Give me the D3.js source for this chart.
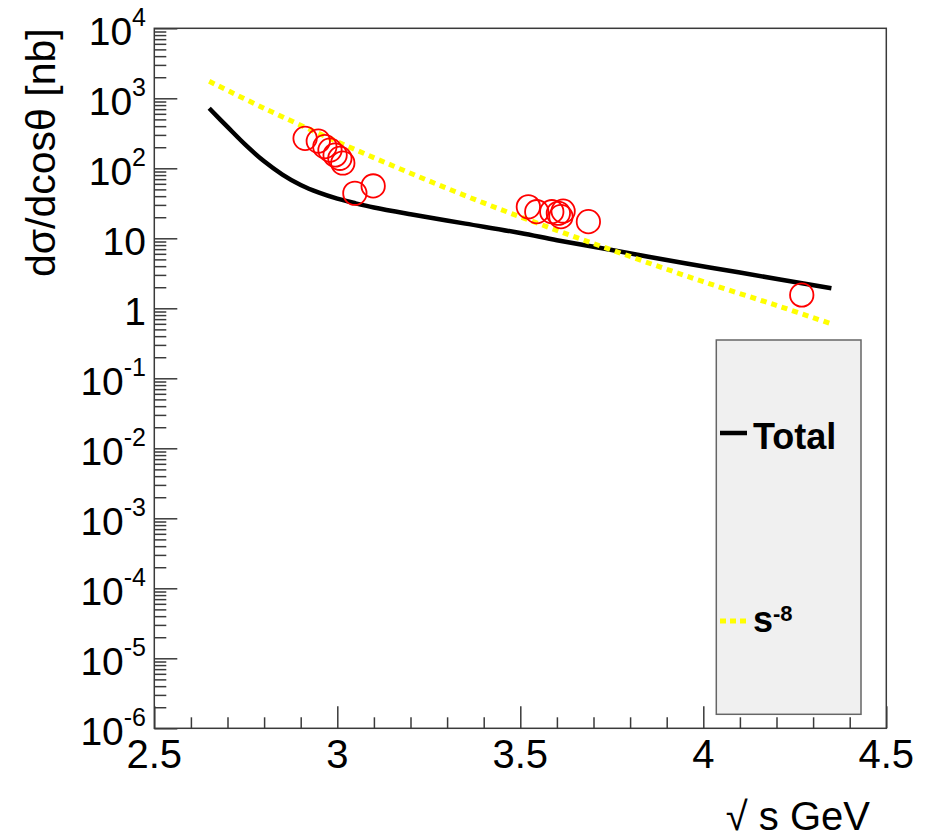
<!DOCTYPE html>
<html>
<head>
<meta charset="utf-8">
<script src="https://cdn.jsdelivr.net/npm/d3@7"></script>
<style>
  html, body { margin: 0; padding: 0; background: #fff; }
  svg { display: block; font-family: "Liberation Sans", Arial, Helvetica, sans-serif; }
</style>
</head>
<body>
<svg id="chart" width="928" height="839"></svg>
<script>
// Model curve "Total": sqrt(s) [GeV] vs dσ/dcosθ [nb]
const totalX = [2.65, 2.70, 2.75, 2.80, 2.85, 2.90, 2.95, 3.00, 3.05, 3.10, 3.20, 3.35, 3.50, 3.60, 3.75, 3.95, 4.10, 4.35];
const totalY = [720, 390, 214, 126, 81.5, 57.7, 44.8, 36.8, 31.6, 27.6, 22.1, 16.2, 11.9, 9.4, 6.8, 4.4, 3.24, 1.93];

// Scaling curve s^-8
const scaleX = [2.65, 2.80, 3.00, 3.20, 3.40, 3.60, 3.80, 4.00, 4.20, 4.35];
const scaleY = [1750, 720, 240, 85, 32, 13, 5.5, 2.4, 1.1, 0.6];

// Measured points
const dataX = [2.912, 2.948, 2.966, 2.980, 2.994, 3.007, 3.015, 3.048, 3.098,
               3.522, 3.545, 3.586, 3.604, 3.611, 3.617, 3.686, 4.269];
const dataY = [268, 245, 204, 182, 155, 139, 119, 44, 56,
               28.2, 24, 24, 22.8, 20.4, 24.5, 17.3, 1.55];

// Axis tick labels
const xTickValues = [2.5, 3, 3.5, 4, 4.5];
const xTickLabels = ["2.5", "3", "3.5", "4", "4.5"];
const yTickValues = [1e-6, 1e-5, 1e-4, 1e-3, 1e-2, 1e-1, 1, 10, 1e2, 1e3, 1e4];
const yTickLabels = ["10^-6", "10^-5", "10^-4", "10^-3", "10^-2", "10^-1", "1", "10", "10^2", "10^3", "10^4"];

const frame = { left: 154.3, right: 886.3, top: 28.3, bottom: 728.3 };

const svg = d3.select("#chart");

const x = d3.scaleLinear().domain([2.5, 4.5]).range([frame.left, frame.right]);
const y = d3.scaleLog().domain([1e-6, 1e4]).range([frame.bottom, frame.top]);

const axisColor = "#3a3a3a";

// Frame
svg.append("rect")
  .attr("x", frame.left).attr("y", frame.top)
  .attr("width", frame.right - frame.left)
  .attr("height", frame.bottom - frame.top)
  .attr("fill", "none")
  .attr("stroke", axisColor)
  .attr("stroke-width", 1.5);

// Y axis ticks (inward)
const yMinor = [];
for (let e = -6; e < 4; e++) {
  for (let k = 2; k <= 9; k++) yMinor.push(k * Math.pow(10, e));
}
function styleAxis(g) {
  g.select(".domain").remove();
  g.selectAll(".tick line").attr("stroke", axisColor).attr("stroke-width", 1.5);
  g.selectAll(".tick text").remove();
}
svg.append("g")
  .attr("transform", `translate(${frame.left},0)`)
  .call(d3.axisLeft(y).tickValues(yTickValues).tickSize(-23).tickFormat(""))
  .call(styleAxis);
svg.append("g")
  .attr("transform", `translate(${frame.left},0)`)
  .call(d3.axisLeft(y).tickValues(yMinor).tickSize(-12).tickFormat(""))
  .call(styleAxis);

// X axis ticks (inward)
const xMinor = d3.range(25, 46).map(v => v / 10).filter(v => Math.abs(v * 2 - Math.round(v * 2)) > 1e-6);
svg.append("g")
  .attr("transform", `translate(0,${frame.bottom})`)
  .call(d3.axisBottom(x).tickValues(xTickValues).tickSize(-22).tickFormat(""))
  .call(styleAxis);
svg.append("g")
  .attr("transform", `translate(0,${frame.bottom})`)
  .call(d3.axisBottom(x).tickValues(xMinor).tickSize(-11).tickFormat(""))
  .call(styleAxis);

// X tick labels
svg.append("g").selectAll("text")
  .data(xTickValues)
  .join("text")
  .attr("x", d => x(d))
  .attr("y", 768)
  .attr("text-anchor", "middle")
  .attr("font-size", 40)
  .attr("fill", "#000")
  .text((d, i) => xTickLabels[i]);

// Y tick labels with superscript exponents
const yLab = svg.append("g").selectAll("text")
  .data(yTickValues)
  .join("text")
  .attr("x", 146)
  .attr("y", d => y(d) + 17)
  .attr("text-anchor", "end")
  .attr("font-size", 39)
  .attr("fill", "#000");
yLab.each(function (d, i) {
  const parts = yTickLabels[i].split("^");
  const t = d3.select(this);
  t.append("tspan").text(parts[0]);
  if (parts.length > 1) {
    t.append("tspan").attr("dy", -19).attr("font-size", 25).text(parts[1]);
  }
});

// Axis titles
svg.append("text")
  .attr("transform", `translate(55,${frame.top}) rotate(-90)`)
  .attr("text-anchor", "end")
  .attr("font-size", 41)
  .attr("fill", "#000")
  .text("dσ/dcosθ [nb]");

svg.append("text")
  .attr("x", 870)
  .attr("y", 830)
  .attr("text-anchor", "end")
  .attr("font-size", 40)
  .attr("fill", "#000")
  .text("√ s GeV");

// Curves
const line = d3.line().x(d => x(d[0])).y(d => y(d[1])).curve(d3.curveCatmullRom.alpha(0.5));

svg.append("path")
  .datum(totalX.map((v, i) => [v, totalY[i]]))
  .attr("d", line)
  .attr("fill", "none")
  .attr("stroke", "#000")
  .attr("stroke-width", 4.5);

svg.append("path")
  .datum(scaleX.map((v, i) => [v, scaleY[i]]))
  .attr("d", line)
  .attr("fill", "none")
  .attr("stroke", "#ffff00")
  .attr("stroke-width", 5)
  .attr("stroke-dasharray", "6 5");

// Data points (open circles)
svg.append("g").selectAll("circle")
  .data(dataX.map((v, i) => [v, dataY[i]]))
  .join("circle")
  .attr("cx", d => x(d[0]))
  .attr("cy", d => y(d[1]))
  .attr("r", 11.7)
  .attr("fill", "none")
  .attr("stroke", "#ff0000")
  .attr("stroke-width", 1.8);

// Legend
const legend = svg.append("g");
legend.append("rect")
  .attr("x", 716.3).attr("y", 340)
  .attr("width", 861 - 716.3).attr("height", 714.3 - 340)
  .attr("fill", "#f0f0f0")
  .attr("stroke", "#666")
  .attr("stroke-width", 1.5);

legend.append("line")
  .attr("x1", 720).attr("x2", 747).attr("y1", 433).attr("y2", 433)
  .attr("stroke", "#000").attr("stroke-width", 4.5);
legend.append("text")
  .attr("x", 753).attr("y", 449)
  .attr("font-size", 36).attr("font-weight", "bold").attr("fill", "#000")
  .text("Total");

legend.append("line")
  .attr("x1", 720).attr("x2", 747).attr("y1", 621).attr("y2", 621)
  .attr("stroke", "#ffff00").attr("stroke-width", 5).attr("stroke-dasharray", "6 4");
const sLab = legend.append("text")
  .attr("x", 753).attr("y", 632)
  .attr("font-size", 36).attr("font-weight", "bold").attr("fill", "#000");
sLab.append("tspan").text("s");
sLab.append("tspan").attr("dy", -11).attr("font-size", 22).text("-8");
</script>
</body>
</html>
